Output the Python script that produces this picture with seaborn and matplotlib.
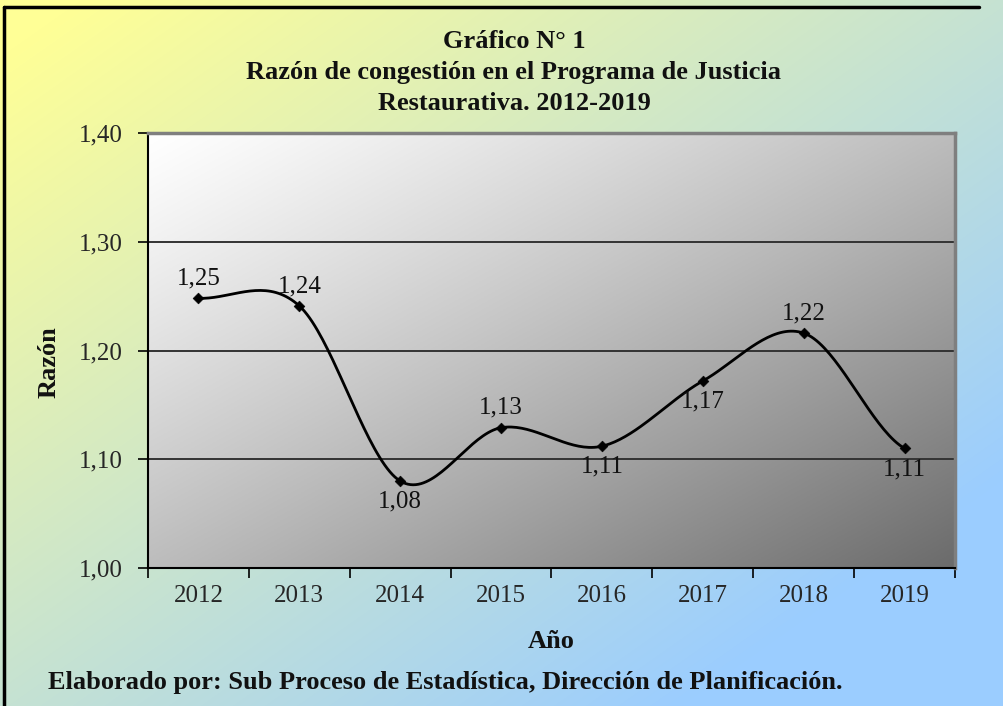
import numpy as np
import matplotlib
matplotlib.use('Agg')
import matplotlib.pyplot as plt
from matplotlib.lines import Line2D
import seaborn as sns

# data
years = ['2012', '2013', '2014', '2015', '2016', '2017', '2018', '2019']
ratio = [1.248, 1.241, 1.080, 1.129, 1.112, 1.172, 1.216, 1.110]
label_pos = ['above', 'above', 'below', 'above', 'below', 'below', 'above', 'below']
y_ticks = [1.00, 1.10, 1.20, 1.30, 1.40]

title_lines = ['Gráfico N° 1',
               'Razón de congestión en el Programa de Justicia',
               'Restaurativa. 2012-2019']
footer = 'Elaborado por: Sub Proceso de Estadística, Dirección de Planificación.'

# setup
sns.set_theme(style='white')
plt.rcParams['font.family'] = ['Liberation Serif', 'DejaVu Serif']
W, H = 1004, 706
fig = plt.figure(figsize=(W / 100, H / 100), dpi=100)

# figure background gradient (yellow -> light blue)
gx, gy = np.meshgrid(np.linspace(0, 1, W), np.linspace(0, 1, H))
t = np.clip((gx + gy) / 2 * 1.25 - 0.05, 0, 1)[..., None]
c0 = np.array([255, 255, 150]) / 255
c1 = np.array([155, 205, 255]) / 255
fig.figimage(c0 * (1 - t) + c1 * t, xo=0, yo=0, origin='upper', zorder=-10)

# outer frame (only top and left edges are visible)
fig.add_artist(Line2D([4 / W, 4 / W], [0, 1 - 7 / H], color='black', lw=2.5))
fig.add_artist(Line2D([4 / W, 0.975], [1 - 7 / H, 1 - 7 / H], color='black', lw=2.5))

# plot area
ax = fig.add_axes([148 / W, 1 - 568 / H, (955 - 148) / W, (568 - 133) / H])
x = np.arange(len(years))
ax.set_xlim(-0.5, len(years) - 0.5)
ax.set_ylim(1.0, 1.4)

px, py = np.meshgrid(np.linspace(0, 1, 300), np.linspace(0, 1, 200))
s = (px + py) / 2
gray = 1.0 - 0.58 * s ** 1.15
ax.imshow(np.dstack([gray] * 3), aspect='auto', zorder=0,
          extent=(-0.5, len(years) - 0.5, 1.0, 1.4), origin='upper',
          vmin=0, vmax=1)

for yv in y_ticks[1:-1]:
    ax.axhline(yv, color='#333333', lw=1.4, zorder=1)

# smoothed line (Catmull-Rom through the points, as Excel does)
pts = np.array(ratio)
ext = np.concatenate([[pts[0]], pts, [pts[-1]]])
cx, cy = [], []
u = np.linspace(0, 1, 40)
for i in range(len(pts) - 1):
    p0, p1 = ext[i + 1], ext[i + 2]
    m0 = (ext[i + 2] - ext[i]) / 2
    m1 = (ext[i + 3] - ext[i + 1]) / 2
    h00 = 2 * u**3 - 3 * u**2 + 1
    h10 = u**3 - 2 * u**2 + u
    h01 = -2 * u**3 + 3 * u**2
    h11 = u**3 - u**2
    cx.extend(i + u)
    cy.extend(h00 * p0 + h10 * m0 + h01 * p1 + h11 * m1)
ax.plot(cx, cy, color='black', lw=2.0, zorder=3)
sns.scatterplot(x=x, y=ratio, marker='D', s=30, color='black',
                edgecolor='black', ax=ax, zorder=4, legend=False)

for xi, v, pos in zip(x, ratio, label_pos):
    lab = f'{v:.2f}'.replace('.', ',')
    if pos == 'above':
        ax.annotate(lab, (xi, v), xytext=(0, 10), textcoords='offset points',
                    ha='center', va='baseline', fontsize=18, color='#111111', zorder=5)
    else:
        ax.annotate(lab, (xi, v), xytext=(0, -7), textcoords='offset points',
                    ha='center', va='top', fontsize=18, color='#111111', zorder=5)

# axes styling
ax.set_yticks(y_ticks)
ax.set_yticklabels([f'{v:.2f}'.replace('.', ',') for v in y_ticks], fontsize=18)
ax.set_xticks(x)
ax.set_xticklabels(years, fontsize=18)
ax.set_xticks(np.arange(-0.5, len(years)), minor=True)
ax.tick_params(axis='x', which='major', length=0, pad=12)
ax.tick_params(axis='x', which='minor', length=7, width=1.2, color='black', direction='out', bottom=True)
ax.tick_params(axis='y', length=7, width=1.2, color='black', direction='out', left=True, pad=11)
for side in ['left', 'bottom']:
    ax.spines[side].set_color('black')
    ax.spines[side].set_linewidth(1.5)
for side in ['top', 'right']:
    ax.spines[side].set_color('#7f7f7f')
    ax.spines[side].set_linewidth(2.5)
ax.set_xlabel('')
ax.set_ylabel('')

# texts
for txt, yp in zip(title_lines, [42, 73, 103]):
    fig.text(514 / W, 1 - yp / H, txt, ha='center', va='center',
             fontsize=19, fontweight='bold', color='#111111')
fig.text(551 / W, 1 - 641 / H, 'Año', ha='center', va='center',
         fontsize=19, fontweight='bold', color='#111111')
fig.text(49 / W, 1 - 362 / H, 'Razón', ha='center', va='center', rotation=90,
         fontsize=19, fontweight='bold', color='#111111')
fig.text(48 / W, 1 - 683 / H, footer, ha='left', va='center',
         fontsize=19, fontweight='bold', color='#111111')

fig.savefig('out.png', dpi=100)
